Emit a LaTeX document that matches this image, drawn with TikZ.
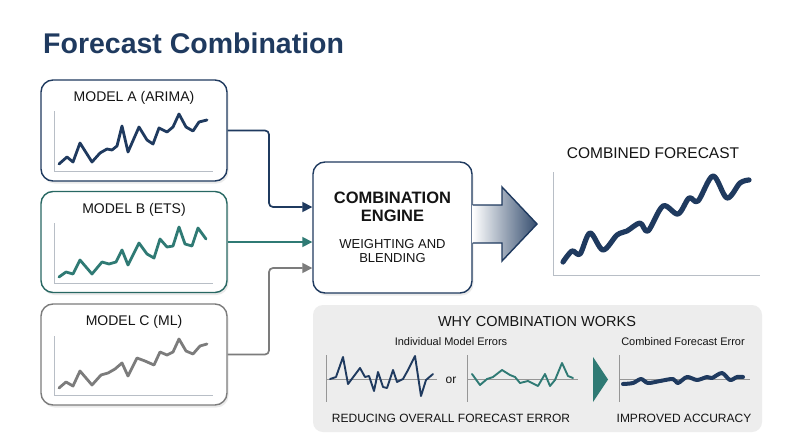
\documentclass[tikz,border=0pt]{standalone}
\usepackage{fontspec}
\setmainfont{Liberation Sans}
\usetikzlibrary{arrows.meta,shadows,calc}
\definecolor{navy}{HTML}{1F3A5F}
\definecolor{tealc}{HTML}{2F7A74}
\definecolor{grayc}{HTML}{7C7C7C}
\definecolor{axisc}{HTML}{B8BEC6}
\definecolor{panel}{HTML}{EDEDED}
\definecolor{txt}{HTML}{141414}
\begin{document}
\begin{tikzpicture}[x=1pt,y=-1pt,
  modelbox/.style={rectangle, rounded corners=12pt, line width=1.4pt, fill=white,
    minimum width=186pt, minimum height=101pt, inner sep=0pt,
    drop shadow={opacity=0.16, shadow xshift=1.5pt, shadow yshift=-2.5pt}},
  lbl/.style={font=\fontsize{14}{16}\selectfont, text=txt},
  axisl/.style={draw=axisc, line width=0.9pt},
  sline/.style={line width=2.8pt, line join=round, line cap=round},
  conn/.style={line width=1.7pt, rounded corners=4pt, -{Triangle[length=10pt,width=10pt]}},
  small/.style={font=\fontsize{11}{13}\selectfont, text=txt},
  captxt/.style={font=\fontsize{12}{14}\selectfont, text=txt}
]
\useasboundingbox (0,0) rectangle (800,447);
\fill[white] (0,0) rectangle (800,447);

% title
\node[anchor=base west, inner sep=0pt, text=navy, font=\fontsize{28.5}{32}\selectfont\bfseries] (title) at (43,53) {Forecast Combination};

% model boxes
\node[modelbox, draw=navy] (A) at (134,130.5) {};
\node[modelbox, draw=tealc!85!black] (B) at (134,242) {};
\node[modelbox, draw=grayc] (C) at (134,354.5) {};
\node[lbl] (Al) at (134,98) {MODEL A (ARIMA)};
\node[lbl] (Bl) at (134,210) {MODEL B (ETS)};
\node[lbl] (Cl) at (134,322) {MODEL C (ML)};

% chart A
\draw[axisl] (54,111) -- (54,171) -- (213,171);
\draw[sline, navy] (59,164) -- (67,157) -- (73,162) -- (80,143) -- (92,162) -- (100,153) -- (107,149) -- (112,150) -- (117,146) -- (122,126) -- (128,152) -- (139,127) -- (147,140) -- (153,144) -- (159,128) -- (167,132) -- (173,127) -- (179,114) -- (186,127) -- (193,131) -- (199,122) -- (207,120);
% chart B
\draw[axisl] (54,223) -- (54,283) -- (213,283);
\draw[sline, tealc] (59,277) -- (66,272) -- (73,274) -- (80,260) -- (92,274) -- (102,262) -- (109,264) -- (116,262) -- (122,250) -- (128,265) -- (139,243) -- (147,254) -- (154,258) -- (160,239) -- (167,247) -- (173,246) -- (179,227) -- (185,244) -- (192,246) -- (198,228) -- (206,239);
% chart C
\draw[axisl] (54,336) -- (54,395) -- (213,395);
\draw[sline, grayc] (59,388) -- (66,382) -- (73,386) -- (80,371) -- (92,385) -- (101,375) -- (108,373) -- (115,369) -- (122,363) -- (128,376) -- (137,358) -- (145,361) -- (154,365) -- (160,352) -- (167,355) -- (173,352) -- (179,339) -- (186,351) -- (193,354) -- (200,346) -- (207,344);

% engine
\node[rectangle, rounded corners=12pt, draw=navy, line width=1.4pt, fill=white,
  minimum width=159pt, minimum height=131pt, inner sep=0pt,
  drop shadow={opacity=0.16, shadow xshift=1.5pt, shadow yshift=-2.5pt}] (E) at (392.5,227.5) {};
\node[font=\fontsize{16.5}{19}\selectfont\bfseries, text=txt, align=center] (Et) at (392.5,206.5) {COMBINATION\\[-1pt]ENGINE};
\node[font=\fontsize{13}{15}\selectfont, text=txt, align=center] (Es) at (392.5,251.5) {WEIGHTING AND\\[-1pt]BLENDING};

% connectors
\draw[conn, navy] (A.east) -- (269,130.5) |- ($(E.west)+(0,-20.5)$);
\draw[conn, tealc] (B.east) -- ($(E.west)+(0,14.5)$);
\draw[conn, grayc] (C.east) -- (269,354.5) |- ($(E.west)+(0,40.5)$);

% big arrow
\coordinate (bt) at (537,224);
\shade[left color=white, right color=navy!90, shading angle=90]
  (E.east |- 0,205) -- (502,205) -- (502,187) -- (bt) -- (502,261) -- (502,243) -- (E.east |- 0,243) -- cycle;
\draw[navy, line width=1.4pt, line join=miter]
  (E.east |- 0,205) -- (502,205) -- (502,187) -- (bt) -- (502,261) -- (502,243) -- (E.east |- 0,243);

% combined forecast
\node[font=\fontsize{15.5}{18}\selectfont, text=txt] (Ft) at (653,153) {COMBINED FORECAST};
\draw[axisl] (553,172) -- (553,275) -- (760,275);
\draw[navy, line width=5.2pt, line cap=round, line join=round] plot[smooth, tension=0.55] coordinates {(563,262) (572,251) (580,254) (590,233) (603,250) (617,235) (627,231) (640,223) (648,231) (663,206) (678,214) (689,198) (698,201) (713,176) (727,198) (740,183) (749,180)};

% bottom panel
\node[rectangle, rounded corners=10pt, fill=panel, minimum width=449pt, minimum height=127pt, inner sep=0pt] (P) at (537.5,368.5) {};
\node[font=\fontsize{14.5}{17}\selectfont, text=txt] (Pt) at (537,322) {WHY COMBINATION WORKS};
\node[small] (Pi) at (451,342) {Individual Model Errors};
\node[small] (Pc) at (683,342) {Combined Forecast Error};
\draw[axisl, draw=grayc!80] (326,355) -- (326,402);
\draw[axisl, draw=grayc!80] (326,379) -- (437,379);
\draw[line width=1.9pt, navy, line join=round, line cap=round] (330,379) -- (336,377) -- (343,357) -- (348,384) -- (360,368) -- (365,377) -- (369,376) -- (374,391) -- (378,372) -- (383,387) -- (387,388) -- (393,370) -- (397,382) -- (403,379) -- (408,370) -- (415,356) -- (421,396) -- (426,380) -- (433,374);
\node[small, font=\fontsize{12}{14}\selectfont] (or) at (451,380) {or};
\draw[axisl, draw=grayc!80] (467,355) -- (467,402);
\draw[axisl, draw=grayc!80] (467,379) -- (578,379);
\draw[line width=1.9pt, tealc, line join=round, line cap=round] (472,374) -- (480,385) -- (487,379) -- (493,377) -- (502,370) -- (510,375) -- (515,377) -- (520,383) -- (528,381) -- (538,386) -- (545,374) -- (550,386) -- (555,380) -- (562,363) -- (568,376) -- (573,378);
\fill[tealc] (593,357) -- (608,379.5) -- (593,402) -- cycle;
\draw[axisl, draw=grayc!80] (619,355) -- (619,402);
\draw[axisl, draw=grayc!80] (619,379) -- (750,379);
\draw[navy, line width=4pt, line cap=round, line join=round] plot[smooth, tension=0.5] coordinates {(623,384) (633,383) (641,379) (648,383) (660,381) (673,379) (678,383) (687,377) (697,380) (707,377) (712,378) (722,373) (730,380) (737,377) (743,377)};
\node[captxt] (Pr) at (451,418) {REDUCING OVERALL FORECAST ERROR};
\node[captxt] (Pa) at (684,418) {IMPROVED ACCURACY};
\end{tikzpicture}
\end{document}
